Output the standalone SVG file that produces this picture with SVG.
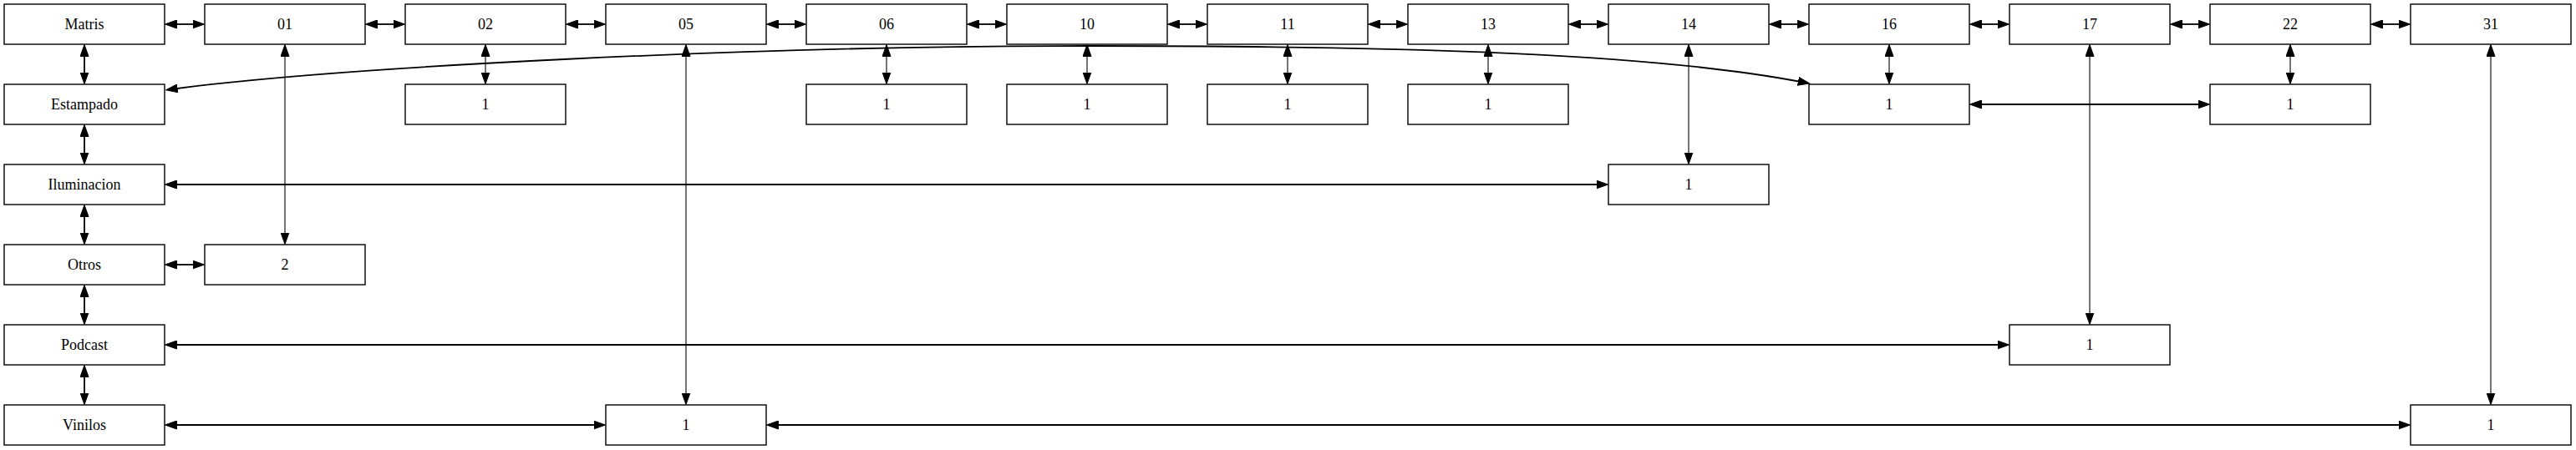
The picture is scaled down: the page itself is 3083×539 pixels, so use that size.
<svg xmlns="http://www.w3.org/2000/svg" width="3083" height="539" viewBox="0 0 3083 539">
<style>
.n rect{fill:#fff;stroke:#000;stroke-width:1.4}
.n text{font-family:"Liberation Serif","Times New Roman",serif;font-size:18px;fill:#000;text-anchor:middle}
#edges line,#edges path{stroke:#000;stroke-width:1.8;fill:none;marker-start:url(#ah);marker-end:url(#ah)}
#edges .thin{stroke-width:1.1}
</style>
<defs>
<marker id="ah" markerUnits="userSpaceOnUse" markerWidth="15" markerHeight="11" viewBox="0 -5.5 15 11" refX="0.5" refY="0" orient="auto-start-reverse">
<path d="M0,-5 L14,0 L0,5 z" fill="#000" stroke="#000" stroke-width="1"/>
</marker>
</defs>
<g id="edges">
<line x1="211" y1="29" x2="231" y2="29"/>
<line x1="451" y1="29" x2="471" y2="29"/>
<line x1="691" y1="29" x2="711" y2="29"/>
<line x1="931" y1="29" x2="951" y2="29"/>
<line x1="1171" y1="29" x2="1191" y2="29"/>
<line x1="1411" y1="29" x2="1431" y2="29"/>
<line x1="1651" y1="29" x2="1671" y2="29"/>
<line x1="1891" y1="29" x2="1911" y2="29"/>
<line x1="2131" y1="29" x2="2151" y2="29"/>
<line x1="2371" y1="29" x2="2391" y2="29"/>
<line x1="2611" y1="29" x2="2631" y2="29"/>
<line x1="2851" y1="29" x2="2871" y2="29"/>
<line x1="101" y1="67" x2="101" y2="87"/>
<line x1="101" y1="163" x2="101" y2="183"/>
<line x1="101" y1="259" x2="101" y2="279"/>
<line x1="101" y1="355" x2="101" y2="375"/>
<line x1="101" y1="451" x2="101" y2="471"/>
<line class="thin" x1="581" y1="67" x2="581" y2="87"/>
<line class="thin" x1="1061" y1="67" x2="1061" y2="87"/>
<line class="thin" x1="1301" y1="67" x2="1301" y2="87"/>
<line class="thin" x1="1541" y1="67" x2="1541" y2="87"/>
<line class="thin" x1="1781" y1="67" x2="1781" y2="87"/>
<line class="thin" x1="2261" y1="67" x2="2261" y2="87"/>
<line class="thin" x1="2741" y1="67" x2="2741" y2="87"/>
<line class="thin" x1="341" y1="67" x2="341" y2="279"/>
<line x1="211" y1="317" x2="231" y2="317"/>
<line class="thin" x1="2021" y1="67" x2="2021" y2="183"/>
<line x1="211" y1="221" x2="1911" y2="221"/>
<line class="thin" x1="2501" y1="67" x2="2501" y2="375"/>
<line x1="211" y1="413" x2="2391" y2="413"/>
<line class="thin" x1="821" y1="67" x2="821" y2="471"/>
<line x1="211" y1="509" x2="711" y2="509"/>
<line x1="931" y1="509" x2="2871" y2="509"/>
<line class="thin" x1="2981" y1="67" x2="2981" y2="471"/>
<line x1="2371" y1="125" x2="2631" y2="125"/>
<path d="M212,106 C410,80 900,55 1300,55 C1700,55 1980,65 2152.5,97.5"/>
</g>
<g id="matris" class="n"><rect x="5" y="5" width="192" height="48"/><text x="101" y="35">Matris</text></g>
<g id="n01" class="n"><rect x="245" y="5" width="192" height="48"/><text x="341" y="35">01</text></g>
<g id="n02" class="n"><rect x="485" y="5" width="192" height="48"/><text x="581" y="35">02</text></g>
<g id="n05" class="n"><rect x="725" y="5" width="192" height="48"/><text x="821" y="35">05</text></g>
<g id="n06" class="n"><rect x="965" y="5" width="192" height="48"/><text x="1061" y="35">06</text></g>
<g id="n10" class="n"><rect x="1205" y="5" width="192" height="48"/><text x="1301" y="35">10</text></g>
<g id="n11" class="n"><rect x="1445" y="5" width="192" height="48"/><text x="1541" y="35">11</text></g>
<g id="n13" class="n"><rect x="1685" y="5" width="192" height="48"/><text x="1781" y="35">13</text></g>
<g id="n14" class="n"><rect x="1925" y="5" width="192" height="48"/><text x="2021" y="35">14</text></g>
<g id="n16" class="n"><rect x="2165" y="5" width="192" height="48"/><text x="2261" y="35">16</text></g>
<g id="n17" class="n"><rect x="2405" y="5" width="192" height="48"/><text x="2501" y="35">17</text></g>
<g id="n22" class="n"><rect x="2645" y="5" width="192" height="48"/><text x="2741" y="35">22</text></g>
<g id="n31" class="n"><rect x="2885" y="5" width="192" height="48"/><text x="2981" y="35">31</text></g>
<g id="estampado" class="n"><rect x="5" y="101" width="192" height="48"/><text x="101" y="131">Estampado</text></g>
<g id="n02_1" class="n"><rect x="485" y="101" width="192" height="48"/><text x="581" y="131">1</text></g>
<g id="n06_1" class="n"><rect x="965" y="101" width="192" height="48"/><text x="1061" y="131">1</text></g>
<g id="n10_1" class="n"><rect x="1205" y="101" width="192" height="48"/><text x="1301" y="131">1</text></g>
<g id="n11_1" class="n"><rect x="1445" y="101" width="192" height="48"/><text x="1541" y="131">1</text></g>
<g id="n13_1" class="n"><rect x="1685" y="101" width="192" height="48"/><text x="1781" y="131">1</text></g>
<g id="n16_1" class="n"><rect x="2165" y="101" width="192" height="48"/><text x="2261" y="131">1</text></g>
<g id="n22_1" class="n"><rect x="2645" y="101" width="192" height="48"/><text x="2741" y="131">1</text></g>
<g id="iluminacion" class="n"><rect x="5" y="197" width="192" height="48"/><text x="101" y="227">Iluminacion</text></g>
<g id="n14_1" class="n"><rect x="1925" y="197" width="192" height="48"/><text x="2021" y="227">1</text></g>
<g id="otros" class="n"><rect x="5" y="293" width="192" height="48"/><text x="101" y="323">Otros</text></g>
<g id="n01_2" class="n"><rect x="245" y="293" width="192" height="48"/><text x="341" y="323">2</text></g>
<g id="podcast" class="n"><rect x="5" y="389" width="192" height="48"/><text x="101" y="419">Podcast</text></g>
<g id="n17_1" class="n"><rect x="2405" y="389" width="192" height="48"/><text x="2501" y="419">1</text></g>
<g id="vinilos" class="n"><rect x="5" y="485" width="192" height="48"/><text x="101" y="515">Vinilos</text></g>
<g id="n05_1" class="n"><rect x="725" y="485" width="192" height="48"/><text x="821" y="515">1</text></g>
<g id="n31_1" class="n"><rect x="2885" y="485" width="192" height="48"/><text x="2981" y="515">1</text></g>
</svg>
